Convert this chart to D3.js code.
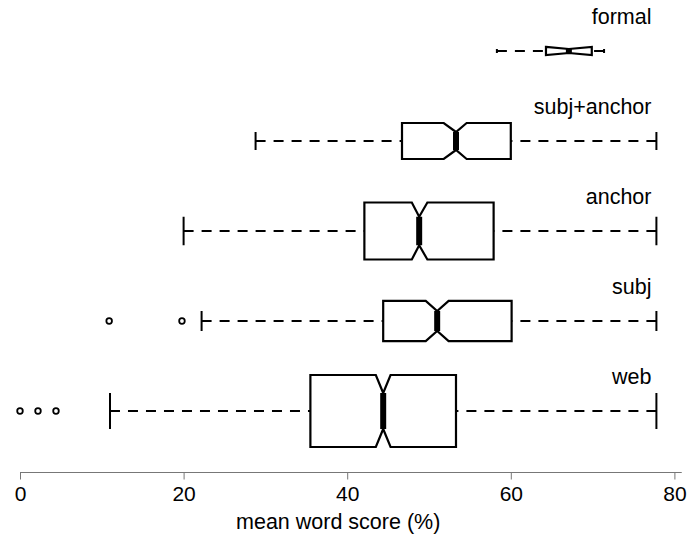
<!DOCTYPE html>
<html>
<head>
<meta charset="utf-8">
<script src="https://cdn.jsdelivr.net/npm/d3@7"></script>
<style>
  body { margin: 0; background: #fff; }
  text { font-family: "Liberation Sans", Arial, Helvetica, sans-serif; }
</style>
</head>
<body>
<div id="chart"></div>
<script>
// groups from bottom to top
const groups = ['web', 'subj', 'anchor', 'subj+anchor', 'formal'];
const whiskerLo = [11.0, 22.2, 20.0, 28.8, 58.3];
const lowerQ = [35.5, 44.4, 42.1, 46.7, 64.3];
const medians = [44.4, 51.0, 48.8, 53.3, 67.1];
const upperQ = [53.3, 60.1, 57.9, 60.0, 69.9];
const whiskerHi = [77.8, 77.8, 77.8, 77.8, 71.4];
const notchLo = [43.5, 49.6, 47.9, 51.8, 64.3];
const notchHi = [45.3, 52.4, 49.8, 54.6, 69.9];
// relative sample sizes (box height ~ sqrt(n), like varwidth)
const counts = [316, 98, 198, 79, 4];
const outliers = [[0, 2.2, 4.4], [10.9, 19.8], [], [], []];
const xTicks = [0, 20, 40, 60, 80];

const width = 688, height = 539;

const svg = d3.select('#chart')
  .append('svg')
  .attr('width', width)
  .attr('height', height);

const x = d3.scaleLinear().domain([0, 80]).range([20, 674.4]);
const y = d3.scaleLinear().domain([1, groups.length]).range([411, 51]);
const boxW = d3.scaleSqrt().domain([0, d3.max(counts)]).range([0, 0.8]);
const unit = Math.abs(y(2) - y(1));

const rows = groups.map((g, i) => ({
  name: g, pos: i + 1,
  lo: whiskerLo[i], q1: lowerQ[i], med: medians[i], q3: upperQ[i], hi: whiskerHi[i],
  nlo: notchLo[i], nhi: notchHi[i], half: boxW(counts[i]) * unit / 2,
  out: outliers[i]
}));

const row = svg.selectAll('.row')
  .data(rows)
  .enter()
  .append('g')
  .attr('class', 'row');

// whiskers (dashed), drawn from the staple towards the hinge
row.append('line')
  .attr('x1', d => x(d.lo)).attr('x2', d => x(d.q1))
  .attr('y1', d => y(d.pos)).attr('y2', d => y(d.pos))
  .attr('stroke', '#000').attr('stroke-width', 2)
  .attr('stroke-dasharray', '10,8');

row.append('line')
  .attr('x1', d => x(d.hi)).attr('x2', d => x(d.q3))
  .attr('y1', d => y(d.pos)).attr('y2', d => y(d.pos))
  .attr('stroke', '#000').attr('stroke-width', 2)
  .attr('stroke-dasharray', '10,8');

// staples
['lo', 'hi'].forEach(k => {
  row.append('line')
    .attr('x1', d => x(d[k])).attr('x2', d => x(d[k]))
    .attr('y1', d => y(d.pos) - d.half / 2)
    .attr('y2', d => y(d.pos) + d.half / 2)
    .attr('stroke', '#000').attr('stroke-width', 2);
});

// notched boxes
row.append('path')
  .attr('d', d => {
    const c = y(d.pos), h = d.half;
    return d3.line()([
      [x(d.q1), c - h], [x(d.nlo), c - h], [x(d.med), c - h / 2], [x(d.nhi), c - h],
      [x(d.q3), c - h], [x(d.q3), c + h], [x(d.nhi), c + h], [x(d.med), c + h / 2],
      [x(d.nlo), c + h], [x(d.q1), c + h]
    ]) + 'Z';
  })
  .attr('fill', '#fff')
  .attr('stroke', '#000')
  .attr('stroke-width', 2.2)
  .attr('stroke-linejoin', 'miter');

// medians
row.append('line')
  .attr('x1', d => x(d.med)).attr('x2', d => x(d.med))
  .attr('y1', d => y(d.pos) - d.half / 2)
  .attr('y2', d => y(d.pos) + d.half / 2)
  .attr('stroke', '#000').attr('stroke-width', 6);

// outliers
row.selectAll('circle')
  .data(d => d.out.map(v => ({ v: v, pos: d.pos })))
  .enter()
  .append('circle')
  .attr('cx', d => x(d.v))
  .attr('cy', d => y(d.pos))
  .attr('r', 2.8)
  .attr('fill', 'none')
  .attr('stroke', '#000')
  .attr('stroke-width', 1.8);

// group labels
row.append('text')
  .attr('x', x(77.2))
  .attr('y', d => y(d.pos + 0.3))
  .attr('text-anchor', 'end')
  .attr('font-size', '21.5px')
  .attr('fill', '#000')
  .text(d => d.name);

// x axis
const axisY = 472.5;
const axis = svg.append('g')
  .attr('transform', `translate(0, ${axisY})`)
  .call(d3.axisBottom(x).tickValues(xTicks).tickSize(7).tickSizeOuter(0));

axis.select('.domain').remove();
axis.append('line')
  .attr('x1', x(0)).attr('x2', x(80.9))
  .attr('stroke', '#777').attr('stroke-width', 1);
axis.selectAll('.tick line').attr('stroke', '#777');
axis.selectAll('.tick text')
  .attr('y', 28).attr('dy', 0)
  .attr('fill', '#000')
  .attr('font-size', '21px')
  .attr('font-family', '"Liberation Sans", Arial, Helvetica, sans-serif');

const allVals = whiskerLo.concat(whiskerHi, outliers.flat());
const ext = d3.extent(allVals);

svg.append('text')
  .attr('x', x((ext[0] + ext[1]) / 2))
  .attr('y', 529)
  .attr('text-anchor', 'middle')
  .attr('font-size', '21.5px')
  .attr('fill', '#000')
  .text('mean word score (%)');
</script>
</body>
</html>
